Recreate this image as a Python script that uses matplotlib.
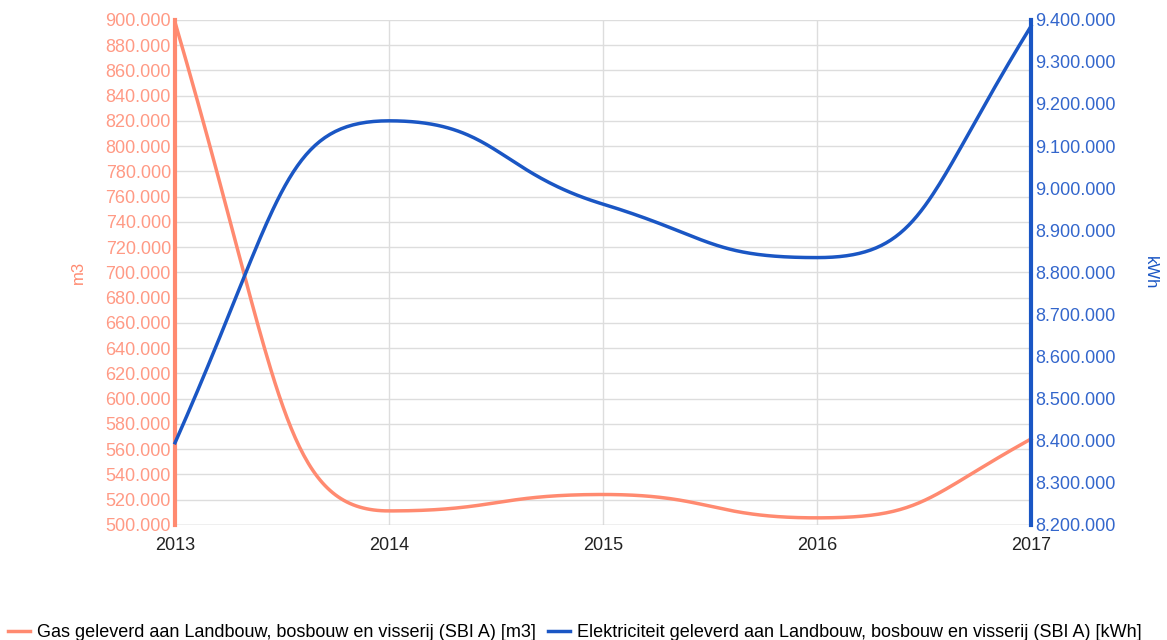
import matplotlib
matplotlib.use("Agg")
import matplotlib.pyplot as plt
import matplotlib.ticker as ticker
import numpy as np

years = [2013, 2014, 2015, 2016, 2017]
gas_m3 = [898000, 511000, 524000, 505500, 568000]
elec_kwh = [8395000, 9160000, 8962000, 8835000, 9385000]

gas_label = "Gas geleverd aan Landbouw, bosbouw en visserij (SBI A) [m3]"
elec_label = "Elektriciteit geleverd aan Landbouw, bosbouw en visserij (SBI A) [kWh]"

gas_color = "#FF8A70"
elec_color = "#1A56C4"

plt.rcParams["font.family"] = ["Liberation Sans", "DejaVu Sans"]


def smooth(xs, ys, k=0.5, n=80):
    # curved line through the points: bezier segments, flat at local extremes
    xs = np.asarray(xs, float)
    ys = np.asarray(ys, float)
    h = np.diff(xs)
    d = np.diff(ys) / h
    m = np.zeros(len(xs))
    for i in range(1, len(xs) - 1):
        if d[i - 1] * d[i] > 0:
            m[i] = 2 / (1 / d[i - 1] + 1 / d[i])
    m[0] = 1.5 * d[0] - 0.5 * m[1]
    m[-1] = 1.5 * d[-1] - 0.5 * m[-2]
    out_x, out_y = [], []
    s = np.linspace(0, 1, n)
    b0, b1, b2, b3 = (1 - s)**3, 3 * s * (1 - s)**2, 3 * s**2 * (1 - s), s**3
    for i in range(len(xs) - 1):
        dx = k * h[i]
        px = [xs[i], xs[i] + dx, xs[i + 1] - dx, xs[i + 1]]
        py = [ys[i], ys[i] + m[i] * dx, ys[i + 1] - m[i + 1] * dx, ys[i + 1]]
        out_x.extend(b0 * px[0] + b1 * px[1] + b2 * px[2] + b3 * px[3])
        out_y.extend(b0 * py[0] + b1 * py[1] + b2 * py[2] + b3 * py[3])
    return np.array(out_x), np.array(out_y)


def dutch(v, pos):
    return f"{int(round(v)):,}".replace(",", ".")


fig = plt.figure(figsize=(11.67, 6.4), dpi=100)
ax = fig.add_axes([0.15, 0.18, 0.7335, 0.789])
ax2 = ax.twinx()

gx, gy = smooth(years, gas_m3)
ex, ey = smooth(years, elec_kwh)
l1, = ax.plot(gx, gy, color=gas_color, lw=2.5, label=gas_label, clip_on=False, zorder=3)
l2, = ax2.plot(ex, ey, color=elec_color, lw=2.5, label=elec_label, clip_on=False, zorder=3)

ax.set_xlim(2013, 2017)
ax.set_ylim(500000, 900000)
ax2.set_ylim(8200000, 9400000)
ax.set_xticks(years)
ax.set_yticks(np.arange(500000, 900001, 20000))
ax2.set_yticks(np.arange(8200000, 9400001, 100000))
ax.yaxis.set_major_formatter(ticker.FuncFormatter(dutch))
ax2.yaxis.set_major_formatter(ticker.FuncFormatter(dutch))

ax.grid(True, color="#DDDDDD", lw=1)
ax.set_axisbelow(True)
for s in ["top", "bottom"]:
    ax.spines[s].set_visible(False)
    ax2.spines[s].set_visible(False)
ax.spines["right"].set_visible(False)
ax.spines["left"].set_visible(False)
ax2.spines["left"].set_color(gas_color)
ax2.spines["left"].set_linewidth(3)
ax2.spines["right"].set_color(elec_color)
ax2.spines["right"].set_linewidth(3)
ax.axhline(500000, color="#CCCCCC", lw=1, zorder=1)

ax.tick_params(axis="y", length=0, labelsize=13, labelcolor="#FF9A85", pad=3)
ax2.tick_params(axis="y", length=0, labelsize=13, labelcolor="#3366CC", pad=3)
ax.tick_params(axis="x", length=0, labelsize=13, labelcolor="#222222", pad=9)

ax.set_ylabel("m3", color=gas_color, fontsize=12, labelpad=14)
ax2.set_ylabel("kWh", color=elec_color, fontsize=12, rotation=-90, labelpad=30)

fig.legend(handles=[l1, l2], loc="lower left", bbox_to_anchor=(-0.007, -0.027), ncol=2,
           frameon=False, fontsize=13, handlelength=1.2, handletextpad=0.4, columnspacing=0.7)

fig.savefig("out.png", dpi=100)
